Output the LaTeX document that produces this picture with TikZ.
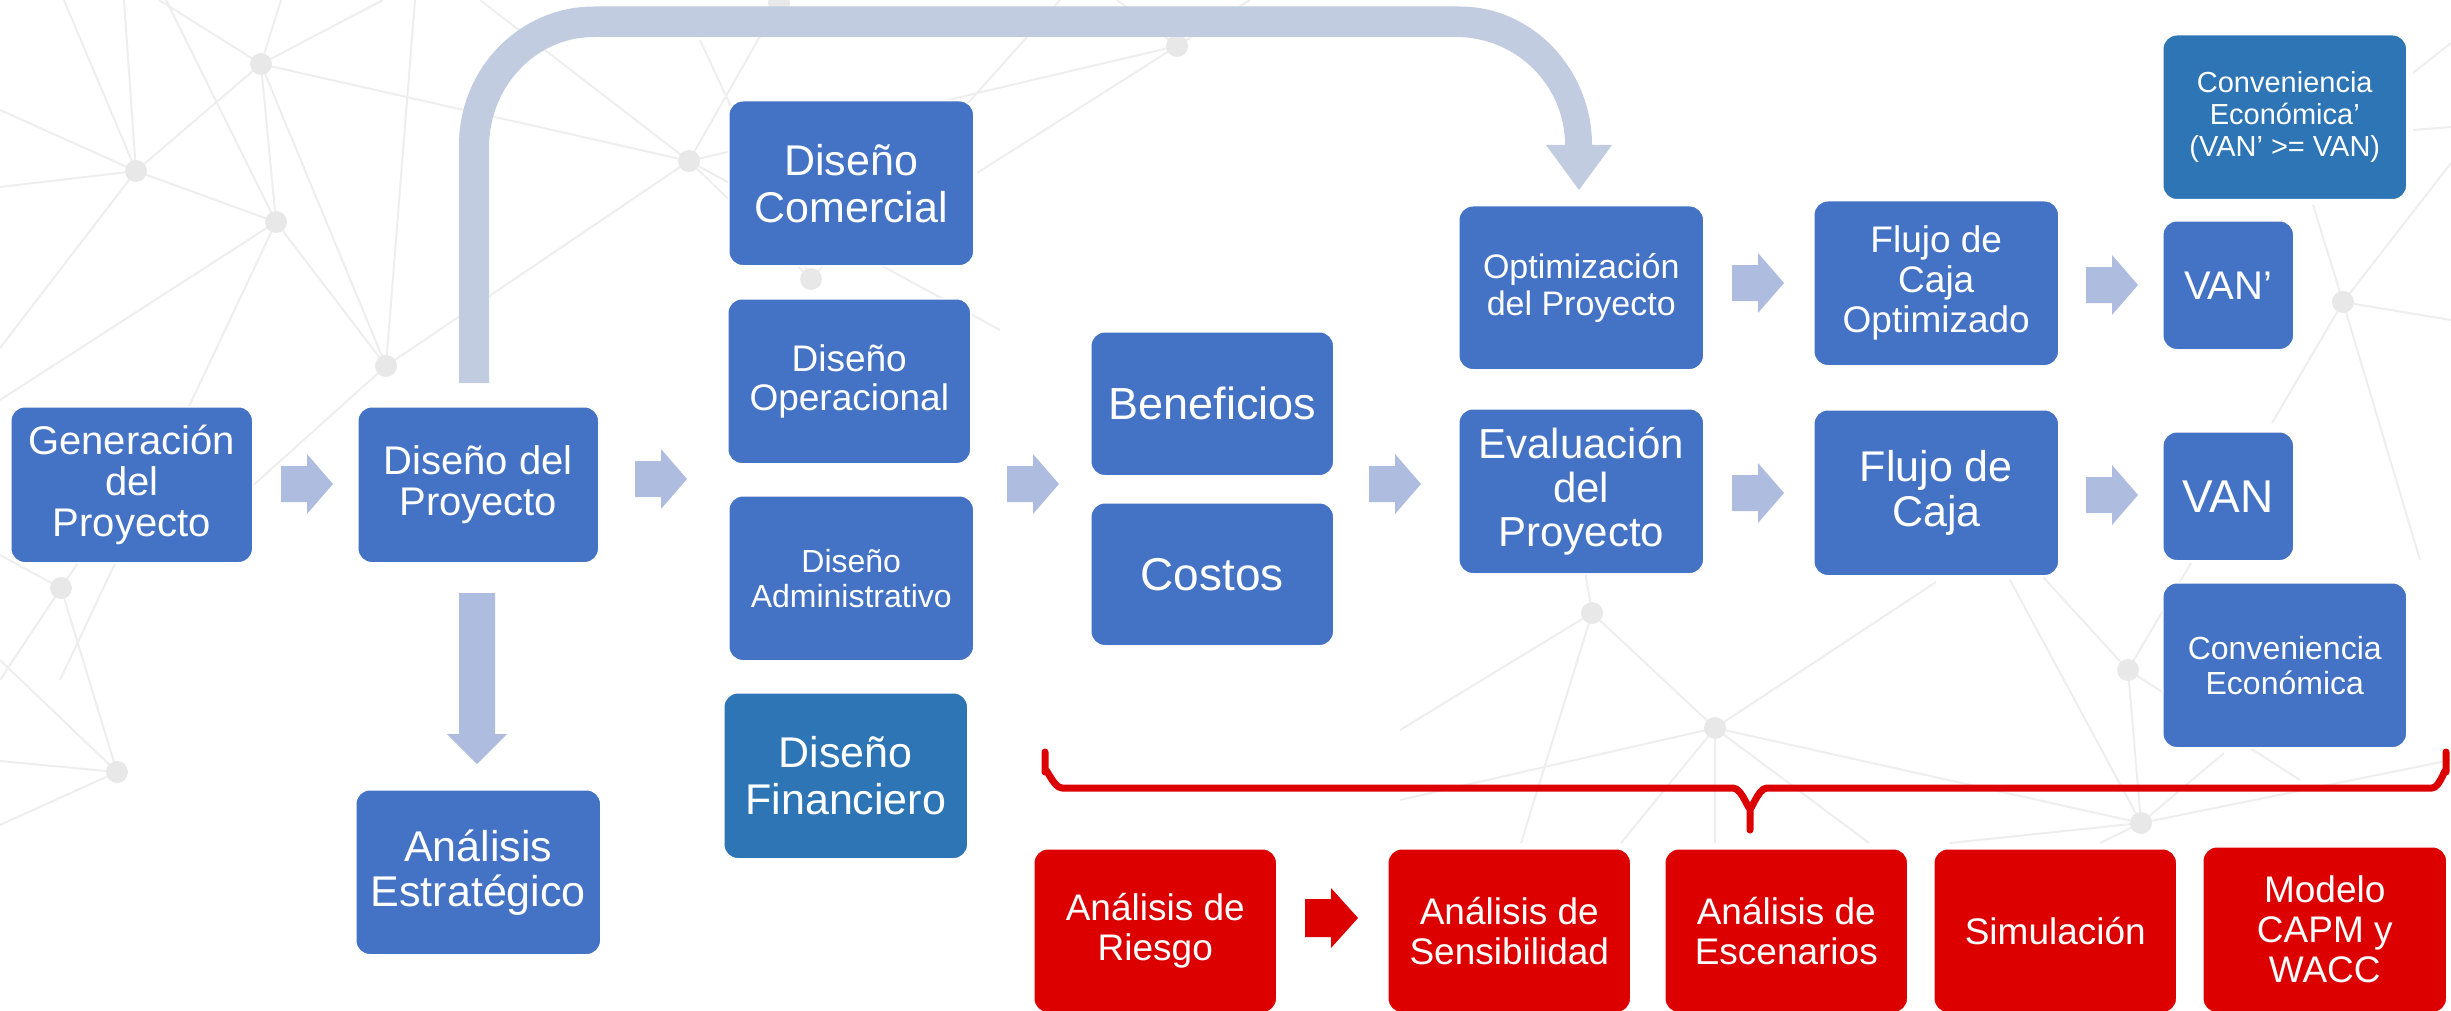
\documentclass[tikz,border=0pt]{standalone}
\usepackage{fontspec}
\setmainfont{Liberation Sans}
\definecolor{boxblue}{HTML}{4472C4}
\definecolor{boxdark}{HTML}{2E75B6}
\definecolor{boxred}{HTML}{DD0000}
\definecolor{arrfill}{HTML}{AEBCDF}
\definecolor{tubefill}{HTML}{C2CCE1}
\definecolor{netline}{HTML}{EEEEEE}
\definecolor{netdot}{HTML}{E8E8E8}
\tikzset{
  box/.style={rounded corners=14pt, fill=boxblue, draw=white, line width=1.5pt,
    text=white, align=center, anchor=north west, inner sep=0pt},
  darkbox/.style={box, fill=boxdark},
  redbox/.style={box, fill=boxred},
  fs/.style 2 args={font=\fontsize{#1}{#2}\selectfont},
  net/.style={draw=netline, line width=2pt},
  netnode/.style={fill=netdot},
  rarr/.pic={\fill[arrfill] (-26,-18) -- (0,-18) -- (0,-30) -- (26,0) -- (0,30) -- (0,18) -- (-26,18) -- cycle;},
  redarr/.pic={\fill[boxred] (-26,-19) -- (0,-19) -- (0,-30) -- (27,0) -- (0,30) -- (0,19) -- (-26,19) -- cycle;},
  darr/.pic={\fill[arrfill] (-18,-141) -- (18,-141) -- (18,0) -- (30,0) -- (0,30) -- (-30,0) -- (-18,0) -- cycle;},
  brace/.style={draw=boxred, line width=7pt, line cap=round, line join=round}
}
\begin{document}
\begin{tikzpicture}[x=1pt,y=-1pt]
\useasboundingbox (0,0) rectangle (2451,1011);
% ---------- background network ----------
\coordinate (nA) at (261,64);
\coordinate (nB) at (136,171);
\coordinate (nC) at (276,222);
\coordinate (nD) at (386,366);
\coordinate (nE) at (61,588);
\coordinate (nF) at (117,772);
\coordinate (nG) at (689,161);
\coordinate (nH) at (811,279);
\coordinate (nI) at (779,3);
\coordinate (nJ) at (1177,46);
\coordinate (nK) at (1592,613);
\coordinate (nL) at (1715,728);
\coordinate (nM) at (2128,670);
\coordinate (nN) at (2141,823);
\coordinate (nO) at (2343,302);
\path[net]
  (nA) -- (nB) (nA) -- (nC) (nA) -- (nD) (nA) -- (nG) (nA) -- (281,0) (nA) -- (159,0) (nA) -- (383,0)
  (nB) -- (64,0) (nB) -- (124,0) (nB) -- (0,110) (nB) -- (0,187) (nB) -- (nC) (nB) -- (0,348)
  (nC) -- (166,0) (nC) -- (nD) (nC) -- (0,400) (nC) -- (60,680)
  (nD) -- (415,0) (nD) -- (nG) (nD) -- (170,560)
  (nG) -- (nI) (nG) -- (nJ) (nG) -- (nH) (nG) -- (480,0) (nG) -- (1000,330)
  (nH) -- (1060,0) (nH) -- (700,40)
  (nJ) -- (1117,0) (nJ) -- (977,173) (nJ) -- (1250,0)
  (nE) -- (0,555) (nE) -- (nF) (nE) -- (0,680) (nE) -- (140,470)
  (nF) -- (0,761) (nF) -- (0,825) (nF) -- (0,660)
  (nK) -- (1400,730) (nK) -- (1521,843) (nK) -- (nL) (nK) -- (1560,420)
  (nL) -- (1400,800) (nL) -- (1936,582) (nL) -- (nN) (nL) -- (1621,843) (nL) -- (1715,843) (nL) -- (1869,843)
  (nM) -- (2043,577) (nM) -- (nN) (nM) -- (2191,563) (nM) -- (2300,780)
  (nN) -- (2010,580) (nN) -- (2224,753) (nN) -- (2451,760) (nN) -- (2100,843) (nN) -- (1950,843)
  (nO) -- (2313,205) (nO) -- (2451,320) (nO) -- (2272,423) (nO) -- (2451,163) (nO) -- (2420,560)
  (2413,73) -- (2451,43) (2413,130) -- (2451,127);
\foreach \p in {nA,nB,nC,nD,nE,nF,nG,nH,nI,nJ,nK,nL,nM,nN,nO}
  \fill[netnode] (\p) circle (11);
% ---------- curved tube arrow ----------
\fill[tubefill] (459,383) -- (459,145) .. controls (459,69) and (519,6.5) .. (594,6.5)
  -- (1460,6.5) .. controls (1533,6.5) and (1592,70) .. (1592,145)
  -- (1612,145) -- (1579,190) -- (1546,145) -- (1565,145)
  .. controls (1565,85) and (1516,37) .. (1456,37)
  -- (594,37) .. controls (536,37) and (489,86) .. (489,148) -- (489,383) -- cycle;
% ---------- blue boxes ----------
\node[box, minimum width=242pt, minimum height=156pt, fs={40}{41}] (gen) at (10,406) {Generación\\del\\Proyecto};
\node[box, minimum width=241pt, minimum height=156pt, fs={40}{41}] (dis) at (357,406) {Diseño del\\Proyecto};
\node[box, minimum width=245pt, minimum height=165pt, fs={43}{45}] (est) at (355,789) {Análisis\\Estratégico};
\node[box, minimum width=245pt, minimum height=165pt, fs={43}{47}] (com) at (728,100) {Diseño\\Comercial};
\node[box, minimum width=243pt, minimum height=165pt, fs={37}{39}] (opr) at (727,298) {Diseño\\Operacional};
\node[box, minimum width=245pt, minimum height=165pt, fs={32}{35}] (adm) at (728,495) {Diseño\\Administrativo};
\node[darkbox, minimum width=244pt, minimum height=166pt, fs={43}{47}] (fin) at (723,692) {Diseño\\Financiero};
\node[box, minimum width=243pt, minimum height=144pt, fs={45}{47}] (ben) at (1090,331) {Beneficios};
\node[box, minimum width=243pt, minimum height=143pt, fs={46}{48}] (cos) at (1090,502) {Costos};
\node[box, minimum width=245pt, minimum height=164pt, fs={34}{37}] (opt) at (1458,205) {Optimización\\del Proyecto};
\node[box, minimum width=245pt, minimum height=165pt, fs={42}{44}] (eva) at (1458,408) {Evaluación\\del\\Proyecto};
\node[box, minimum width=245pt, minimum height=165pt, fs={37}{40}] (fco) at (1813,200) {Flujo de\\Caja\\Optimizado};
\node[box, minimum width=245pt, minimum height=166pt, fs={43}{45}] (fca) at (1813,409) {Flujo de\\Caja};
\node[darkbox, minimum width=244pt, minimum height=165pt, fs={29}{32}] (cv1) at (2162,34) {Conveniencia\\Económica’\\(VAN’ >= VAN)};
\node[box, minimum width=131pt, minimum height=129pt, fs={40}{42}] (vn1) at (2162,220) {VAN’};
\node[box, minimum width=131pt, minimum height=129pt, fs={46}{48}] (vn) at (2162,431) {VAN};
\node[box, minimum width=244pt, minimum height=165pt, fs={32}{35}] (cv) at (2162,582) {Conveniencia\\Económica};
% ---------- red boxes ----------
\node[redbox, minimum width=243pt, minimum height=164pt, fs={37}{40}] (rie) at (1033,848) {Análisis de\\Riesgo};
\node[redbox, minimum width=243pt, minimum height=164pt, fs={37}{40}] (sen) at (1387,848) {Análisis de\\Sensibilidad};
\node[redbox, minimum width=243pt, minimum height=164pt, fs={37}{40}] (esc) at (1664,848) {Análisis de\\Escenarios};
\node[redbox, minimum width=243pt, minimum height=164pt, fs={37}{40}] (sim) at (1933,848) {Simulación};
\node[redbox, minimum width=244pt, minimum height=166pt, fs={37}{40}] (mod) at (2202,846) {Modelo\\CAPM y\\WACC};
% ---------- block arrows ----------
\pic at (307,484) {rarr};
\pic at (661,479) {rarr};
\pic at (1033,484) {rarr};
\pic at (1395,484) {rarr};
\pic at (1758,283) {rarr};
\pic at (1758,493) {rarr};
\pic at (2112,285) {rarr};
\pic at (2112,495) {rarr};
\pic at (477,734) {darr};
\pic at (1331,918) {redarr};
% ---------- brace ----------
\draw[brace] (1045,752) -- (1045,772) to[out=90,in=180] (1062,788) -- (1733,788)
  to[out=0,in=-90] (1750,806) -- (1750,830);
\draw[brace] (1750,806) to[out=-90,in=180] (1767,788) -- (2432,788)
  to[out=0,in=90] (2446,772) -- (2446,752);
\end{tikzpicture}
\end{document}
